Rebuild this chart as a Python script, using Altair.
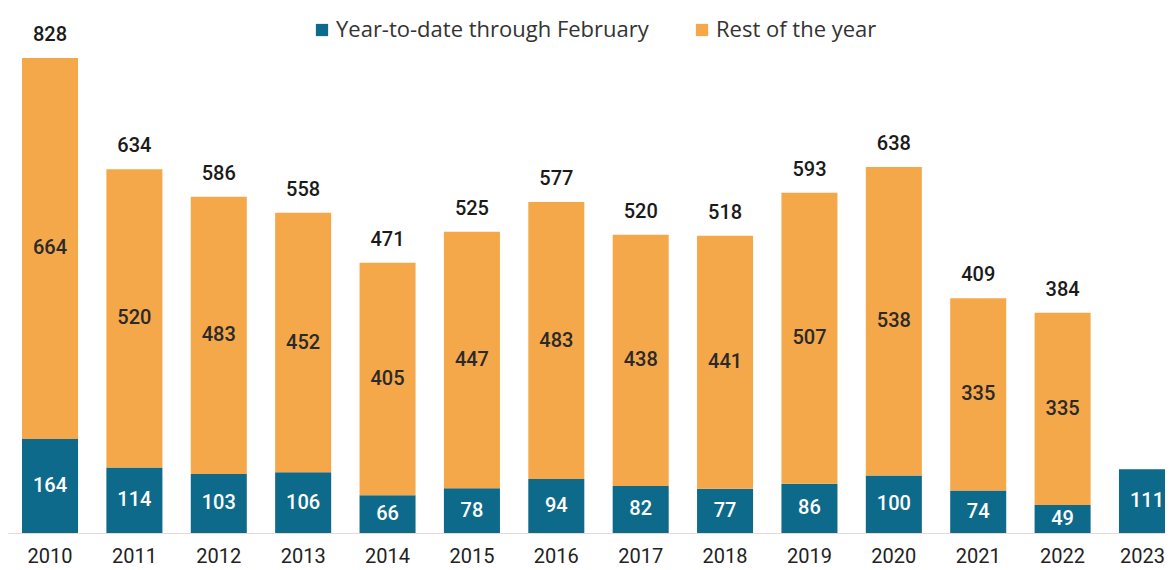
import altair as alt
import pandas as pd

years = ["2010", "2011", "2012", "2013", "2014", "2015", "2016", "2017",
         "2018", "2019", "2020", "2021", "2022", "2023"]
ytd = [164, 114, 103, 106, 66, 78, 94, 82, 77, 86, 100, 74, 49, 111]
rest = [664, 520, 483, 452, 405, 447, 483, 438, 441, 507, 538, 335, 335, None]
totals = [828, 634, 586, 558, 471, 525, 577, 520, 518, 593, 638, 409, 384, None]

S1 = "Year-to-date through February"
S2 = "Rest of the year"
TEAL = "#0d6a8a"
ORANGE = "#f4a84a"
FONT = "Roboto"

rows = []
for y, a, b in zip(years, ytd, rest):
    rows.append({"year": y, "series": S1, "value": a, "ord": 0})
    if b is not None:
        rows.append({"year": y, "series": S2, "value": b, "ord": 1})
df = pd.DataFrame(rows)
tot_df = pd.DataFrame({"year": years, "total": totals}).dropna()
yr_df = pd.DataFrame({"year": years})

xscale = alt.Scale(domain=years, range=[0, 1181], paddingInner=0.336, paddingOuter=0.166)
yscale = alt.Scale(domain=[0, 915])

x_enc = alt.X("year:N", scale=xscale, sort=years, title=None,
              axis=alt.Axis(labels=False, ticks=False,
                            domainColor="#ead8d8", domainWidth=1.2))

base = alt.Chart(df).transform_stack(
    stack="value", groupby=["year"], as_=["y0", "y1"],
    sort=[alt.SortField("ord", order="ascending")]
).transform_calculate(mid="(datum.y0 + datum.y1) / 2")

bars = base.mark_bar().encode(
    x=x_enc,
    y=alt.Y("y0:Q", scale=yscale, axis=None),
    y2="y1:Q",
    color=alt.Color("series:N", scale=alt.Scale(domain=[S1, S2], range=[TEAL, ORANGE]),
                    legend=alt.Legend(title=None, orient="none", direction="horizontal",
                                      legendX=303, legendY=11, symbolType="square",
                                      symbolSize=150, symbolStrokeWidth=0,
                                      labelFontSize=22, labelFont="Open Sans", labelLimit=500,
                                      labelColor="#333333", columnPadding=42,
                                      labelOffset=3)),
)

inner = base.mark_text(fontSize=20, font=FONT, fontWeight=500).encode(
    x=alt.X("year:N", scale=xscale, sort=years),
    y=alt.Y("mid:Q", scale=yscale),
    text=alt.Text("value:Q"),
    color=alt.Color("series:N", scale=alt.Scale(domain=[S1, S2], range=["#ffffff", "#2a2a2a"]),
                    legend=None),
)

tot = alt.Chart(tot_df).mark_text(fontSize=20, font=FONT, fontWeight=500,
                                   baseline="bottom", dy=-13, color="#1a1a1a").encode(
    x=alt.X("year:N", scale=xscale, sort=years),
    y=alt.Y("total:Q", scale=yscale),
    text=alt.Text("total:Q", format="d"),
)

lab_style = dict(fontSize=20, font=FONT, baseline="top", dy=14, color="#222222")
labels_main = alt.Chart(yr_df).transform_filter("datum.year != '2023'").mark_text(**lab_style).encode(
    x=alt.X("year:N", scale=xscale, sort=years),
    y=alt.datum(0, scale=yscale),
    text="year:N",
)
labels_last = alt.Chart(yr_df).transform_filter("datum.year == '2023'").mark_text(
    align="right", dx=18, **lab_style).encode(
    x=alt.X("year:N", scale=xscale, sort=years),
    y=alt.datum(0, scale=yscale),
    text="year:N",
)

chart = alt.layer(bars, inner, tot, labels_main, labels_last).resolve_scale(color="independent").properties(
    width=1157, height=525,
    autosize=alt.AutoSizeParams(type="none"),
    padding={"left": 0, "top": 0, "right": 0, "bottom": 37},
).configure_view(stroke=None)

chart.save("out.html", embed_options={"renderer": "svg", "actions": False})
